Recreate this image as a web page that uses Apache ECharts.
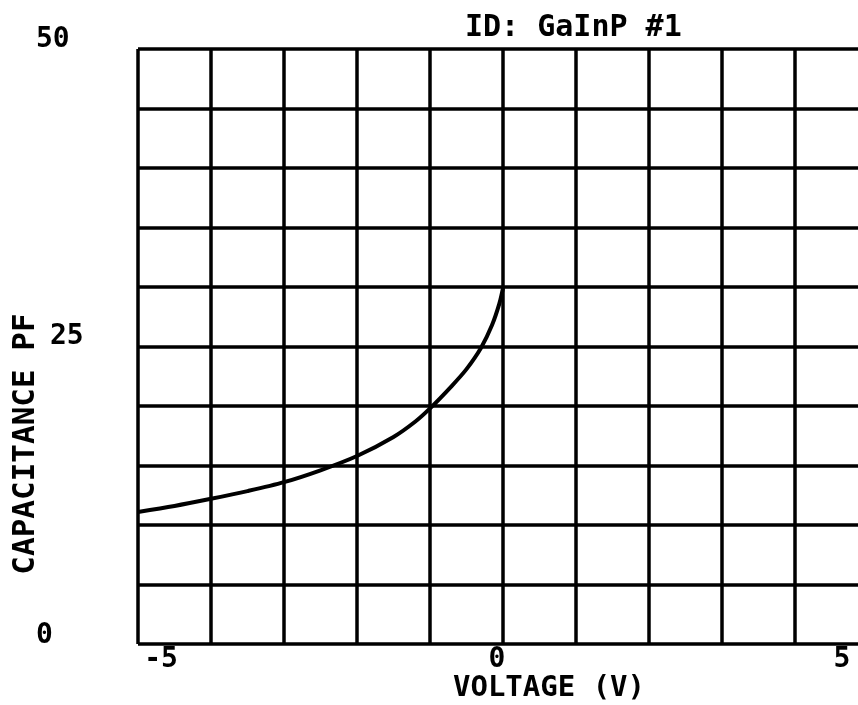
<!DOCTYPE html>
<html>
<head>
<meta charset="utf-8">
<script src="https://cdn.jsdelivr.net/npm/echarts@6/dist/echarts.min.js"></script>
<style>
html,body{margin:0;padding:0;background:#fff;}
#chart{width:858px;height:705px;}
</style>
</head>
<body>
<div id="chart"></div>
<script>
// ---- data ----
const titleText = 'ID: GaInP #1';
const xAxisTitle = 'VOLTAGE (V)';
const yAxisTitle = 'CAPACITANCE PF';
const voltage = [-5, -4.5, -4, -3.5, -3, -2.5, -2, -1.5, -1.2, -1, -0.7, -0.5, -0.3, -0.15, -0.05, 0];
const capacitance = [11.1, 11.6, 12.2, 12.85, 13.6, 14.6, 15.8, 17.4, 18.7, 19.8, 21.7, 23.1, 24.9, 26.8, 28.6, 29.9];
const xTickValues = [-5, 0, 5];
const xTickLabels = ['-5', '0', '5'];
const yTickValues = [0, 25, 50];
const yTickLabels = ['0', '25', '50'];

const FONT = '"DejaVu Sans Mono", monospace';
const tickFont = {fontFamily: FONT, fontWeight: 'bold', fontSize: 28, color: '#000'};

const chart = echarts.init(document.getElementById('chart'), null, {renderer: 'canvas'});
const seriesData = voltage.map((v, i) => [v, capacitance[i]]);

chart.setOption({
  backgroundColor: '#fff',
  animation: false,
  title: {
    text: titleText,
    left: 460, top: 8,
    textStyle: {fontFamily: FONT, fontWeight: 'bold', fontSize: 30, color: '#000'}
  },
  grid: {left: 138, top: 49, right: -10, bottom: 61, containLabel: false, outerBoundsMode: 'none'},
  xAxis: {
    type: 'value', min: -5, max: 5, interval: 1,
    axisLine: {show: false}, axisTick: {show: false},
    splitLine: {show: true, lineStyle: {color: '#000', width: 3.5}},
    axisLabel: {
      show: true, margin: 2, showMinLabel: true, showMaxLabel: true,
      ...tickFont,
      formatter: function (v) {
        const i = xTickValues.indexOf(v);
        if (i < 0) return '';
        return '{x' + i + '|' + xTickLabels[i] + '}';
      },
      rich: {
        x0: {...tickFont, padding: [0, 0, 0, 46]},
        x1: {...tickFont, padding: [0, 12, 0, 0]},
        x2: {...tickFont, padding: [0, 52, 0, 0]}
      }
    }
  },
  yAxis: {
    type: 'value', min: 0, max: 50, interval: 5,
    axisLine: {show: false}, axisTick: {show: false},
    splitLine: {show: true, lineStyle: {color: '#000', width: 3.5}},
    axisLabel: {
      show: true, margin: 102, align: 'left', showMinLabel: true, showMaxLabel: true,
      ...tickFont,
      formatter: function (v) {
        const i = yTickValues.indexOf(v);
        if (i < 0) return '';
        return '{y' + i + '|' + yTickLabels[i] + '}';
      },
      rich: {
        y0: {...tickFont, padding: [0, 0, 16, 0]},
        y1: {...tickFont, padding: [0, 0, 20, 14]},
        y2: {...tickFont, padding: [0, 0, 18, 0]}
      }
    }
  },
  graphic: [
    {type: 'text', x: 549, y: 688,
     style: {text: xAxisTitle, font: 'bold 29px ' + FONT, fill: '#000', align: 'center', verticalAlign: 'middle'}},
    {type: 'text', x: 26, y: 444, rotation: Math.PI / 2,
     style: {text: yAxisTitle, font: 'bold 31px ' + FONT, fill: '#000', align: 'center', verticalAlign: 'middle'}}
  ],
  series: [{
    type: 'line', data: seriesData, smooth: 0.3, showSymbol: false, clip: false,
    lineStyle: {color: '#000', width: 4}
  }]
});
</script>
</body>
</html>
